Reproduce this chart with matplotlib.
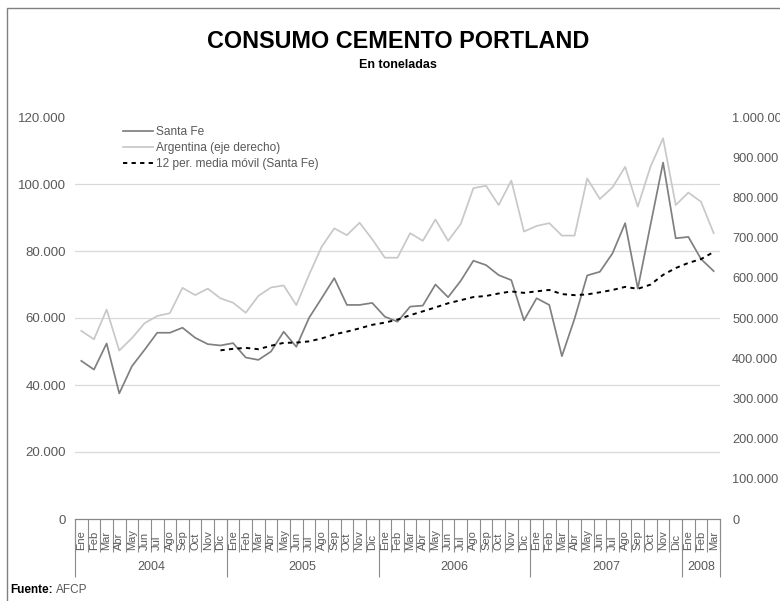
import matplotlib
matplotlib.use("Agg")
import matplotlib.pyplot as plt
import numpy as np
import pandas as pd
from matplotlib.ticker import FuncFormatter
from matplotlib.patches import Rectangle

plt.rcParams['font.family'] = ['Liberation Sans', 'DejaVu Sans']

# monthly data, Ene 2004 - Mar 2008 (toneladas)
months = ["Ene", "Feb", "Mar", "Abr", "May", "Jun", "Jul", "Ago", "Sep", "Oct", "Nov", "Dic"]
years = ["2004", "2005", "2006", "2007", "2008"]
months_per_year = [12, 12, 12, 12, 3]
month_labels = (months * 5)[:51]

santa_fe = [47200, 44600, 52400, 37500, 45600, 50500, 55600, 55600, 57100, 54100, 52200, 51800,
            52500, 48200, 47500, 50000, 55900, 51400, 60000, 65900, 71900, 63900, 63900, 64500,
            60400, 58900, 63400, 63700, 70000, 66200, 71100, 77100, 75800, 72800, 71300, 59300,
            65900, 63900, 48600, 59800, 72700, 73800, 79300, 88300, 68800, 87700, 106400, 83800,
            84200, 77600, 74000]
argentina = [468000, 447000, 521000, 419000, 450000, 487000, 505000, 512000, 575000, 557000, 573000, 549000,
             538000, 513000, 555000, 576000, 581000, 532000, 607000, 677000, 723000, 706000, 737000, 696000,
             650000, 650000, 711000, 692000, 745000, 692000, 734000, 823000, 829000, 781000, 842000, 715000,
             729000, 736000, 705000, 705000, 847000, 796000, 825000, 876000, 777000, 876000, 947000, 781000,
             812000, 789000, 711000]

# Excel trendline: 12 period moving average of Santa Fe
media_movil = pd.Series(santa_fe).rolling(12).mean()

x = np.arange(len(santa_fe))
grey_txt = "#595959"

fig = plt.figure(figsize=(7.8, 6.01), dpi=100)
ax = fig.add_axes([75 / 780, 82 / 601, 645 / 780, 402 / 601])
ax2 = ax.twinx()

l_sf, = ax.plot(x, santa_fe, color="#808080", lw=1.25, label="Santa Fe")
l_mm, = ax.plot(x, media_movil, color="black", lw=1.4, linestyle=(0, (2.2, 2.2)),
                label="12 per. media móvil (Santa Fe)")
l_ar, = ax2.plot(x, argentina, color="#c8c8c8", lw=1.25, label="Argentina (eje derecho)")

fmt = FuncFormatter(lambda v, p: f"{int(v):,}".replace(",", "."))
ax.set_ylim(0, 120000)
ax.set_yticks(np.arange(0, 120001, 20000))
ax.yaxis.set_major_formatter(fmt)
ax2.set_ylim(0, 1000000)
ax2.set_yticks(np.arange(0, 1000001, 100000))
ax2.yaxis.set_major_formatter(fmt)
ax.set_xlim(-0.5, len(x) - 0.5)

for a in (ax, ax2):
    for s in ("top", "left", "right", "bottom"):
        a.spines[s].set_visible(False)
ax.tick_params(axis="y", length=0, pad=6.5, labelsize=9.5, labelcolor=grey_txt)
ax2.tick_params(axis="y", length=0, pad=8.8, labelsize=9.2, labelcolor=grey_txt)
ax.set_xticks([])

for v in range(20000, 100001, 20000):
    ax.axhline(v, color="#d9d9d9", lw=0.9, zorder=0)
ax.axhline(0, color="#868686", lw=0.9, zorder=1, clip_on=False)

# category table below the axis
xt = ax.get_xaxis_transform()
ax.vlines(np.arange(len(x) + 1) - 0.5, -33 / 402, 0, transform=xt, color="#8c8c8c",
          lw=0.8, clip_on=False)
for i, m in enumerate(month_labels):
    ax.text(i, -31 / 402, m, transform=xt, rotation=90, ha="center", va="bottom",
            fontsize=8, color=grey_txt)
edges = np.concatenate([[0], np.cumsum(months_per_year)]) - 0.5
ax.vlines(edges, -58 / 402, 0, transform=xt, color="#8c8c8c", lw=0.8, clip_on=False)
for y, a0, a1 in zip(years, edges[:-1], edges[1:]):
    ax.text((a0 + a1) / 2, -48 / 402, y, transform=xt, ha="center", va="center",
            fontsize=9, color=grey_txt)

ax2.legend(handles=[l_sf, l_ar, l_mm], loc="upper left", bbox_to_anchor=(0.0744, 0.978),
           frameon=False, fontsize=8.6, handlelength=2.55, handletextpad=0.2,
           borderpad=0, borderaxespad=0, labelspacing=0.33, labelcolor=grey_txt)

fig.text(0.51, 1 - 42 / 601, "CONSUMO CEMENTO PORTLAND", ha="center", va="center",
         fontsize=16.8, fontweight="bold", color="black")
fig.text(0.51, 1 - 65 / 601, "En toneladas", ha="center", va="center",
         fontsize=9, fontweight="bold", color="black")
fig.text(10 / 780, 1 - 590 / 601, "Fuente:", ha="left", va="center", fontsize=8.5,
         fontweight="bold")
fig.text(56 / 780, 1 - 590 / 601, "AFCP", ha="left", va="center", fontsize=8.5,
         color=grey_txt)

fig.patches.append(Rectangle((7 / 780, -0.1), 1.2, 1 - 8 / 601 + 0.1, transform=fig.transFigure,
                             fill=False, edgecolor="#808080", lw=1))

fig.savefig("out.png", dpi=100)
